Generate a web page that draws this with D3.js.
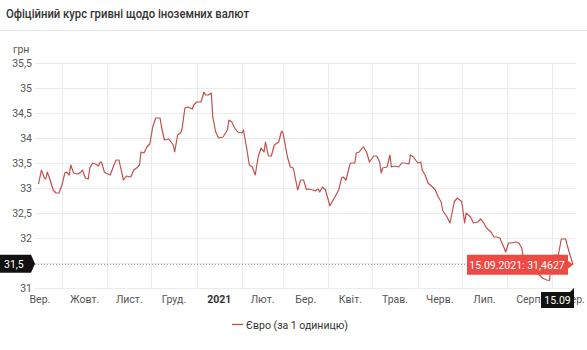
<!DOCTYPE html>
<html lang="uk">
<head>
    <meta charset="UTF-8">
    <title>Офіційний курс гривні щодо іноземних валют</title>
    <script src="https://d3js.org/d3.v7.min.js"></script>
    <style>
        body { margin: 0; background: #fff; font-family: Roboto, "Noto Sans", sans-serif; }
        svg text { font-family: Roboto, "Noto Sans", sans-serif; }
    </style>
</head>
<body>
    <div id="chart"></div>
    <script>
        // Euro rate (date, UAH per 1 EUR)
        const eurDates = [
            "2020-09-15","2020-09-17","2020-09-19","2020-09-20","2020-09-21","2020-09-23","2020-09-25","2020-09-27","2020-09-29",
            "2020-10-01","2020-10-03","2020-10-04","2020-10-06","2020-10-07","2020-10-09","2020-10-12","2020-10-14","2020-10-15",
            "2020-10-17","2020-10-19","2020-10-20","2020-10-22","2020-10-24","2020-10-26","2020-10-27","2020-10-28","2020-10-30","2020-10-31",
            "2020-11-03","2020-11-05","2020-11-07","2020-11-09","2020-11-10","2020-11-12","2020-11-14","2020-11-17","2020-11-19",
            "2020-11-21","2020-11-23","2020-11-24","2020-11-26","2020-11-28","2020-11-30",
            "2020-12-02","2020-12-04","2020-12-07","2020-12-08","2020-12-10","2020-12-13","2020-12-16","2020-12-17","2020-12-19",
            "2020-12-21","2020-12-22","2020-12-24","2020-12-26","2020-12-29","2020-12-30",
            "2021-01-01","2021-01-04","2021-01-06","2021-01-07","2021-01-09","2021-01-11","2021-01-12","2021-01-14","2021-01-16",
            "2021-01-19","2021-01-22","2021-01-23","2021-01-25","2021-01-27","2021-01-29",
            "2021-02-01","2021-02-02","2021-02-04","2021-02-06","2021-02-08","2021-02-10","2021-02-12","2021-02-14","2021-02-16",
            "2021-02-17","2021-02-19","2021-02-21","2021-02-23","2021-02-26","2021-02-28",
            "2021-03-01","2021-03-04","2021-03-06","2021-03-08","2021-03-11","2021-03-13","2021-03-15","2021-03-17","2021-03-19",
            "2021-03-23","2021-03-25","2021-03-26","2021-03-28","2021-03-30",
            "2021-04-02","2021-04-03","2021-04-05","2021-04-08","2021-04-10","2021-04-11","2021-04-13","2021-04-15","2021-04-16",
            "2021-04-19","2021-04-20","2021-04-22","2021-04-24","2021-04-25","2021-04-27","2021-04-29",
            "2021-05-02","2021-05-04","2021-05-06","2021-05-07","2021-05-08","2021-05-11","2021-05-13","2021-05-14","2021-05-16",
            "2021-05-19","2021-05-21","2021-05-23","2021-05-26","2021-05-27","2021-05-29","2021-05-31",
            "2021-06-01","2021-06-03","2021-06-04","2021-06-06","2021-06-08","2021-06-11","2021-06-13","2021-06-15","2021-06-17",
            "2021-06-18","2021-06-21","2021-06-23","2021-06-26","2021-06-28",
            "2021-07-01","2021-07-03","2021-07-04","2021-07-07","2021-07-09","2021-07-12","2021-07-14","2021-07-16","2021-07-18",
            "2021-07-21","2021-07-23","2021-07-25","2021-07-27","2021-07-30","2021-07-31",
            "2021-08-02","2021-08-04","2021-08-07","2021-08-09","2021-08-11","2021-08-12","2021-08-18","2021-08-23","2021-08-25",
            "2021-08-28","2021-08-30","2021-08-31",
            "2021-09-02","2021-09-05","2021-09-07","2021-09-10","2021-09-11","2021-09-13","2021-09-15"
        ];
        const eurValues = [
            33.08,33.36,33.20,33.18,33.32,33.16,32.96,32.90,32.90,
            33.06,33.30,33.32,33.26,33.46,33.30,33.28,33.32,33.36,
            33.20,33.18,33.40,33.50,33.48,33.44,33.52,33.52,33.32,33.30,
            33.26,33.42,33.56,33.56,33.42,33.16,33.24,33.22,33.36,
            33.40,33.46,33.72,33.70,33.82,33.88,
            34.22,34.40,34.40,34.22,33.96,33.98,33.86,33.72,34.06,
            34.10,34.18,34.60,34.62,34.58,34.66,
            34.72,34.72,34.92,34.86,34.86,34.90,34.42,34.12,34.00,
            34.02,34.16,34.36,34.32,34.20,34.12,
            34.10,34.16,33.82,33.46,33.42,33.26,33.62,33.80,33.72,
            33.92,33.64,33.64,33.86,33.92,34.14,
            34.10,33.62,33.42,33.40,32.96,33.16,33.16,32.97,32.98,
            32.94,32.98,32.92,33.02,32.96,
            32.64,32.70,32.80,32.96,33.20,33.22,33.16,33.40,33.50,
            33.50,33.70,33.72,33.80,33.82,33.72,33.52,
            33.64,33.64,33.52,33.30,33.40,33.42,33.66,33.42,33.44,
            33.42,33.50,33.50,33.48,33.66,33.62,33.54,
            33.50,33.52,33.36,33.26,33.10,33.02,32.96,32.82,32.72,
            32.55,32.42,32.30,32.73,32.80,
            32.73,32.30,32.50,32.42,32.30,32.32,32.38,32.30,32.20,
            32.12,32.02,32.02,32.00,31.80,31.72,
            31.90,31.90,31.92,31.90,31.80,31.62,31.50,31.26,31.20,
            31.16,31.15,31.50,
            31.66,31.66,31.98,31.98,31.86,31.66,31.4627
        ];

        const yTicks = [31, 31.5, 32, 32.5, 33, 33.5, 34, 34.5, 35, 35.5];
        const monthLabels = ["Вер.", "Жовт.", "Лист.", "Груд.", "2021", "Лют.", "Бер.", "Квіт.", "Трав.", "Черв.", "Лип.", "Серп.", "Вер."];

        const width = 587, height = 350;
        const plot = {left: 35, right: 576, top: 63, bottom: 288};

        const parse = d3.timeParse("%Y-%m-%d");
        const data = eurDates.map((d, i) => ({date: parse(d), value: eurValues[i]}));
        const first = data[0], last = data[data.length - 1];

        const x = d3.scaleTime().domain([first.date, last.date]).range([38.5, 573]);
        const y = d3.scaleLinear().domain([31, 35.5]).range([plot.bottom, plot.top]);

        const svg = d3.select("#chart").append("svg")
            .attr("width", width)
            .attr("height", height);

        // title + separator
        svg.append("text")
            .attr("x", 6).attr("y", 18)
            .attr("font-size", "12px")
            .attr("font-weight", 500)
            .attr("fill", "#333")
            .attr("textLength", 243)
            .attr("lengthAdjust", "spacingAndGlyphs")
            .text("Офіційний курс гривні щодо іноземних валют");
        svg.append("line")
            .attr("x1", 0).attr("x2", width)
            .attr("y1", 30.5).attr("y2", 30.5)
            .attr("stroke", "#e6e6e6");

        // horizontal grid + y labels (31,5 sits under the crosshair label)
        const lastRounded = Math.round(eurValues[eurValues.length - 1] * 2) / 2;
        svg.append("g").selectAll("line").data(yTicks).join("line")
            .attr("x1", plot.left).attr("x2", plot.right)
            .attr("y1", d => Math.round(y(d)) + 0.5).attr("y2", d => Math.round(y(d)) + 0.5)
            .attr("stroke", "#ebebeb");
        svg.append("g").selectAll("text").data(yTicks.filter(d => d !== lastRounded)).join("text")
            .attr("x", 32).attr("y", d => y(d) + 3.5)
            .attr("text-anchor", "end")
            .attr("font-size", "10.5px")
            .attr("fill", "#555")
            .text(d => String(d).replace(".", ","));
        svg.append("text")
            .attr("x", 13).attr("y", 53)
            .attr("font-size", "10.5px")
            .attr("fill", "#555")
            .text("грн");

        // vertical grid at month starts
        const monthStarts = d3.timeMonth.range(d3.timeDay.offset(first.date, 1), d3.timeDay.offset(last.date, 1));
        svg.append("g").selectAll("line").data(monthStarts).join("line")
            .attr("x1", d => Math.round(x(d)) + 0.5).attr("x2", d => Math.round(x(d)) + 0.5)
            .attr("y1", plot.top).attr("y2", plot.bottom)
            .attr("stroke", "#ebebeb");

        // month labels, centred in each month
        const labelMonths = d3.timeMonth.range(d3.timeMonth.floor(first.date), d3.timeDay.offset(last.date, 1));
        svg.append("g").selectAll("text").data(labelMonths).join("text")
            .attr("x", d => (x(d) + x(d3.timeMonth.offset(d, 1))) / 2)
            .attr("y", 303)
            .attr("text-anchor", "middle")
            .attr("font-size", "10.5px")
            .attr("font-weight", (d, i) => monthLabels[i] === "2021" ? 700 : 400)
            .attr("fill", (d, i) => monthLabels[i] === "2021" ? "#333" : "#555")
            .text((d, i) => monthLabels[i]);

        // the series
        const line = d3.line()
            .x(d => x(d.date))
            .y(d => y(d.value));
        svg.append("path")
            .datum(data)
            .attr("d", line)
            .attr("fill", "none")
            .attr("stroke", "#c0504d")
            .attr("stroke-width", 1.2)
            .attr("stroke-linejoin", "round");

        // crosshair at last point
        const px = x(last.date), py = y(last.value);
        svg.append("line")
            .attr("x1", plot.left).attr("x2", px)
            .attr("y1", Math.round(py) - 0.5).attr("y2", Math.round(py) - 0.5)
            .attr("stroke", "#999")
            .attr("stroke-dasharray", "1,2");

        // y crosshair label
        const yLab = svg.append("g").attr("transform", `translate(0,${py - 1})`);
        yLab.append("path")
            .attr("d", "M0,-9 H31 L35,0 L31,9 H0 Z")
            .attr("fill", "#111");
        yLab.append("text")
            .attr("x", 4).attr("y", 3.8)
            .attr("font-size", "10.5px")
            .attr("fill", "#fff")
            .text(String(lastRounded).replace(".", ","));

        // tooltip
        const tip = svg.append("g").attr("transform", `translate(${px},${py})`);
        tip.append("path")
            .attr("d", "M-106,-10 H-5 V-4 L0,0 L-5,4 V10 H-106 Z")
            .attr("fill", "#ee4a44");
        tip.append("text")
            .attr("x", -56).attr("y", 3.8)
            .attr("text-anchor", "middle")
            .attr("font-size", "10.5px")
            .attr("fill", "#fff")
            .text("15.09.2021: " + String(last.value).replace(".", ","));

        // x crosshair label
        const xLab = svg.append("g").attr("transform", `translate(${px},292)`);
        xLab.append("path")
            .attr("d", "M-32,0 H-3 L1,-4 V16 H-32 Z")
            .attr("fill", "#111");
        xLab.append("text")
            .attr("x", -15.5).attr("y", 12)
            .attr("text-anchor", "middle")
            .attr("font-size", "10.5px")
            .attr("fill", "#fff")
            .text(d3.timeFormat("%d.%m")(last.date));

        // legend
        svg.append("line")
            .attr("x1", 232).attr("x2", 243)
            .attr("y1", 324.5).attr("y2", 324.5)
            .attr("stroke", "#c0504d")
            .attr("stroke-width", 1.3);
        svg.append("text")
            .attr("x", 246).attr("y", 328.5)
            .attr("font-size", "10.5px")
            .attr("fill", "#333")
            .text("Євро (за 1 одиницю)");
    </script>
</body>
</html>
